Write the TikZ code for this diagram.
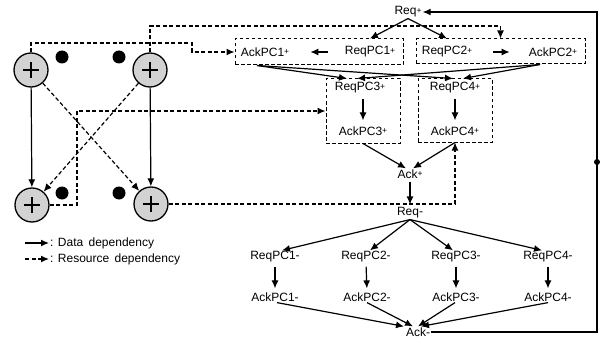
\documentclass[tikz,border=0pt]{standalone}
\usepackage{fontspec}
\setmainfont{Liberation Sans}
\usetikzlibrary{arrows.meta,calc}
\newcommand\pl{\raisebox{1.8pt}{\fontsize{8.5}{8.5}\selectfont+}}
\newcommand\mi{\raisebox{0pt}{-}}
\begin{document}
\begin{tikzpicture}[x=1pt,y=-1pt,
  txt/.style={inner sep=1pt, font=\fontsize{12}{12}\selectfont},
  lgd/.style={inner sep=1pt, anchor=west, font=\fontsize{12}{12}\selectfont},
  dbox/.style={draw, line width=1pt, dash pattern=on 3.5pt off 2.5pt, inner sep=0pt},
  arr/.style={-{Latex[length=8pt,width=7pt]}, line width=1.2pt},
  darr/.style={arr, dash pattern=on 4pt off 2.5pt},
  pc/.style={circle, draw, line width=1.3pt, fill=gray!35, minimum size=34pt, inner sep=0pt,
    path picture={\draw[line width=1.1pt] (path picture bounding box.center) +(-8pt,0) -- +(8pt,0)
      (path picture bounding box.center) +(0,-8pt) -- +(0,8pt);}},
  tok/.style={circle, fill=black, minimum size=13pt, inner sep=0pt}]
\useasboundingbox (0,0) rectangle (601,342);

% dashed boxes
\node[dbox, minimum width=168pt, minimum height=26pt] (b1) at (319,52) {};
\node[dbox, minimum width=169pt, minimum height=25pt] (b2) at (500.5,51.5) {};
\node[dbox, minimum width=74pt, minimum height=64pt] (b3) at (363,111) {};
\node[dbox, minimum width=74pt, minimum height=63pt] (b4) at (455,110.5) {};

% text nodes
\node[txt] (req) at (408,12) {Req\pl};
\node[txt] (ack1p) at (265,52) {AckPC1\pl};
\node[txt] (req1p) at (370,52) {ReqPC1\pl};
\node[txt] (req2p) at (447,52) {ReqPC2\pl};
\node[txt] (ack2p) at (553,52) {AckPC2\pl};
\node[txt] (req3p) at (360,88) {ReqPC3\pl};
\node[txt] (ack3p) at (363,131) {AckPC3\pl};
\node[txt] (req4p) at (455,88) {ReqPC4\pl};
\node[txt] (ack4p) at (455,131) {AckPC4\pl};
\node[txt] (ackp) at (410,174) {Ack\pl};
\node[txt] (reqm) at (410,213) {Req\mi};
\node[txt] (req1m) at (275,257) {ReqPC1\mi};
\node[txt] (req2m) at (366,257) {ReqPC2\mi};
\node[txt] (req3m) at (456,257) {ReqPC3\mi};
\node[txt] (req4m) at (548,257) {ReqPC4\mi};
\node[txt] (ack1m) at (275,297) {AckPC1\mi};
\node[txt] (ack2m) at (367,297) {AckPC2\mi};
\node[txt] (ack3m) at (456,297) {AckPC3\mi};
\node[txt] (ack4m) at (548,297) {AckPC4\mi};
\node[txt] (ackm) at (418,332) {Ack\mi};

% processing elements and tokens
\node[pc] (c1) at (31,70) {};
\node[pc] (c2) at (150,70) {};
\node[pc] (c3) at (32,205) {};
\node[pc] (c4) at (151,204) {};
\node[tok] (t1) at (62,57) {};
\node[tok] (t2) at (119,57) {};
\node[tok] (t3) at (62,193) {};
\node[tok] (t4) at (119,193) {};

% left part connectors
\draw[arr] (c1) -- (c3);
\draw[arr] (c2) -- (c4);
\draw[darr] (c1) -- (c4);
\draw[darr] (c2) -- (c3);
\coordinate (k1) at (192,43);
\draw[darr] (c1.north) |- (k1) |- (b1.west);
\coordinate (k2) at (150,26);
\draw[darr] (c2.north) -- (k2) -| (b2.north);
\coordinate (k3) at (77,111);
\draw[darr] (c3.east) -| (k3) -- (b3.west);
\draw[darr] (c4.east) -| (b4.south);

% top part
\draw[arr] (req.south) -- (req1p |- b1.north);
\draw[arr] (req.south) -- (req2p |- b2.north);
\draw[arr, shorten <=16pt, shorten >=20pt] (req1p.west) -- (ack1p.east);
\draw[arr, shorten <=20pt, shorten >=18pt] (req2p.east) -- (ack2p.west);
\draw[arr] ($(ack1p |- b1.south)+(-8,0)$) -- ($(b3.north)+(-16,0)$);
\draw[arr] ($(ack1p |- b1.south)+(-8,0)$) -- ($(b4.north)+(-2,0)$);
\draw[arr] ($(ack2p |- b2.south)+(-13,0)$) -- ($(b4.north)+(8,0)$);
\draw[arr] ($(ack2p |- b2.south)+(-13,0)$) -- ($(b3.north)+(-6,0)$);
\draw[arr, shorten <=4pt, shorten >=5pt] (req3p.south -| ack3p) -- (ack3p.north);
\draw[arr, shorten <=4pt, shorten >=5pt] (req4p.south) -- (ack4p.north);
\draw[arr] (b3.south) -- ([xshift=-4pt]ackp.north);
\draw[arr] (b4.south) -- ([xshift=3pt]ackp.north);
\draw[arr, shorten <=2pt, shorten >=2pt] (ackp.south) -- (reqm.north);

% bottom part
\draw[arr] (reqm.south) -- ([xshift=7pt]req1m.north);
\draw[arr] (reqm.south) -- ([xshift=4pt]req2m.north);
\draw[arr] (reqm.south) -- ([xshift=-3pt]req3m.north);
\draw[arr] (reqm.south) -- ([xshift=-6pt]req4m.north);
\foreach \i in {1,2,3,4}{
  \draw[arr, shorten <=3pt, shorten >=3pt] (req\i m.south) -- (ack\i m.north);
}
\draw[arr] ([xshift=2pt]ack1m.south) -- ([xshift=-14pt]ackm.north);
\draw[arr] (ack2m.south) -- ([xshift=-5pt]ackm.north);
\draw[arr] ([xshift=-1pt]ack3m.south) -- ([xshift=0pt]ackm.north);
\draw[arr] ([xshift=0pt]ack4m.south) -- ([xshift=3pt]ackm.north);

% feedback loop
\coordinate (rc) at (597,162);
\draw[arr] (ackm.east) -- (ackm.east -| rc) |- (req.east);
\fill (rc) circle (3pt);

% legend
\node[lgd] (lg1) at (49,243) {: Data\, dependency};
\node[lgd] (lg2) at (49,259) {: Resource\, dependency};
\coordinate (l1) at (25,243);
\coordinate (l2) at (25,259);
\draw[arr] (l1) -- (lg1.west);
\draw[darr] (l2) -- (lg2.west);
\end{tikzpicture}
\end{document}
